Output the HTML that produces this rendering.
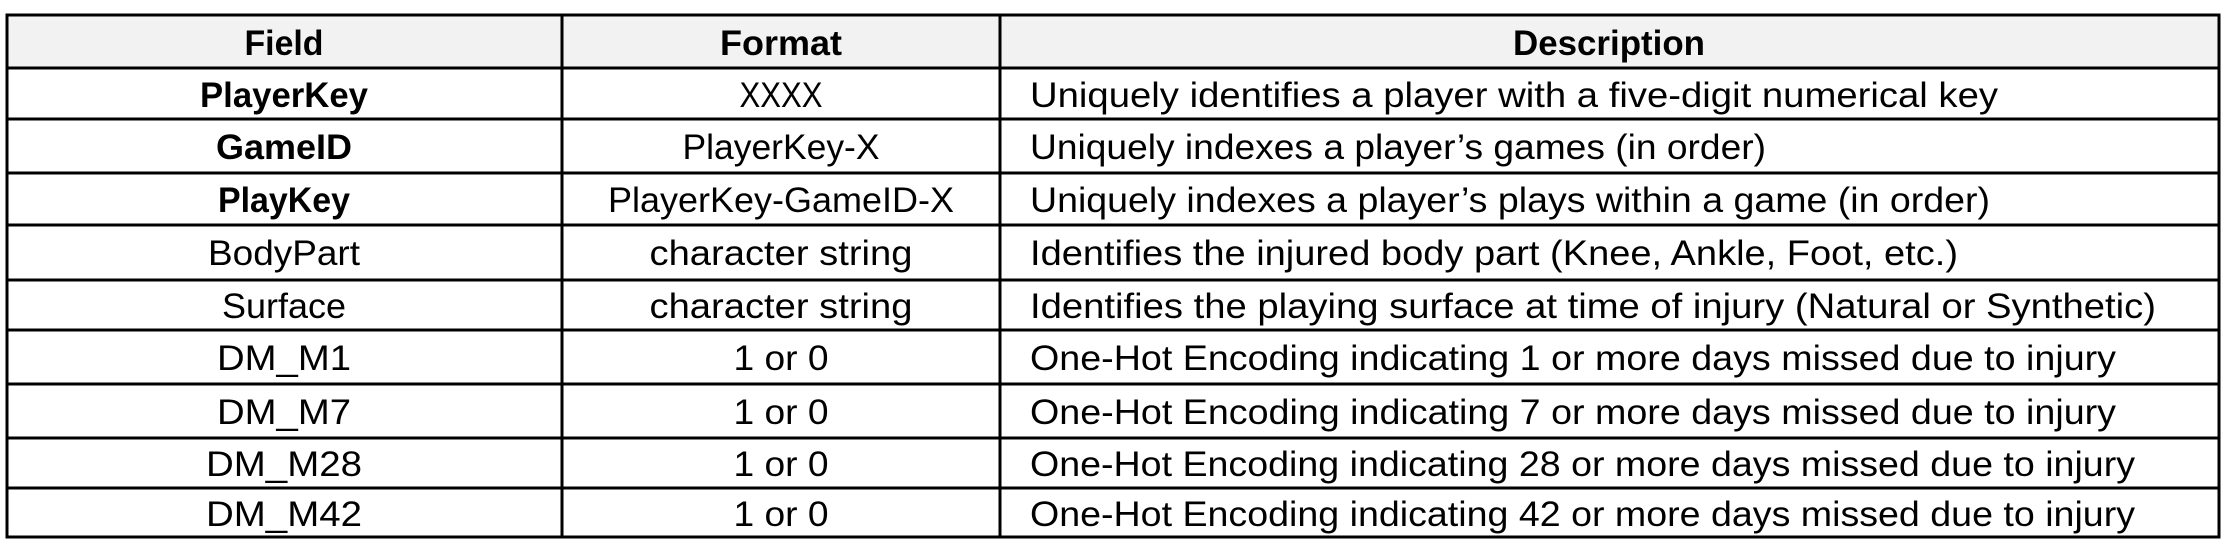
<!DOCTYPE html>
<html><head><meta charset="utf-8"><style>
html,body{margin:0;padding:0;background:#fff;width:2227px;height:550px;overflow:hidden}
svg{display:block}
text{font-family:"Liberation Sans",sans-serif;font-size:35px;fill:#000}
.b{font-weight:bold}
</style></head><body>
<svg width="2227" height="550" viewBox="0 0 2227 550" xmlns="http://www.w3.org/2000/svg">
<rect x="7" y="15" width="2212" height="53" fill="#f2f2f2"/>
<g stroke="#000" stroke-width="3" fill="none">
<rect x="7" y="15" width="2212" height="522"/>
<line x1="7" y1="68" x2="2219" y2="68"/>
<line x1="7" y1="119" x2="2219" y2="119"/>
<line x1="7" y1="173" x2="2219" y2="173"/>
<line x1="7" y1="225" x2="2219" y2="225"/>
<line x1="7" y1="280" x2="2219" y2="280"/>
<line x1="7" y1="330" x2="2219" y2="330"/>
<line x1="7" y1="384" x2="2219" y2="384"/>
<line x1="7" y1="438" x2="2219" y2="438"/>
<line x1="7" y1="488" x2="2219" y2="488"/>
<line x1="562" y1="15" x2="562" y2="537"/>
<line x1="1000" y1="15" x2="1000" y2="537"/>
</g>
<g text-anchor="middle">
<text class="b" x="284" y="55" textLength="79" lengthAdjust="spacingAndGlyphs">Field</text>
<text class="b" x="781" y="55" textLength="122" lengthAdjust="spacingAndGlyphs">Format</text>
<text class="b" x="1609" y="55" textLength="192" lengthAdjust="spacingAndGlyphs">Description</text>

<text class="b" x="284" y="107" textLength="168" lengthAdjust="spacingAndGlyphs">PlayerKey</text>
<text class="b" x="284" y="159" textLength="136" lengthAdjust="spacingAndGlyphs">GameID</text>
<text class="b" x="284" y="212" textLength="132" lengthAdjust="spacingAndGlyphs">PlayKey</text>
<text x="284" y="265" textLength="152" lengthAdjust="spacingAndGlyphs">BodyPart</text>
<text x="284" y="318" textLength="124" lengthAdjust="spacingAndGlyphs">Surface</text>
<text x="284" y="370" textLength="134" lengthAdjust="spacingAndGlyphs">DM_M1</text>
<text x="284" y="424" textLength="134" lengthAdjust="spacingAndGlyphs">DM_M7</text>
<text x="284" y="476" textLength="156" lengthAdjust="spacingAndGlyphs">DM_M28</text>
<text x="284" y="526" textLength="156" lengthAdjust="spacingAndGlyphs">DM_M42</text>

<text x="781" y="107" textLength="83" lengthAdjust="spacingAndGlyphs">XXXX</text>
<text x="781" y="159" textLength="197" lengthAdjust="spacingAndGlyphs">PlayerKey-X</text>
<text x="781" y="212" textLength="346" lengthAdjust="spacingAndGlyphs">PlayerKey-GameID-X</text>
<text x="781" y="265" textLength="263" lengthAdjust="spacingAndGlyphs">character string</text>
<text x="781" y="318" textLength="263" lengthAdjust="spacingAndGlyphs">character string</text>
<text x="781" y="370" textLength="95" lengthAdjust="spacingAndGlyphs">1 or 0</text>
<text x="781" y="424" textLength="95" lengthAdjust="spacingAndGlyphs">1 or 0</text>
<text x="781" y="476" textLength="95" lengthAdjust="spacingAndGlyphs">1 or 0</text>
<text x="781" y="526" textLength="95" lengthAdjust="spacingAndGlyphs">1 or 0</text>
</g>
<g>
<text x="1030" y="107" textLength="968" lengthAdjust="spacingAndGlyphs">Uniquely identifies a player with a five-digit numerical key</text>
<text x="1030" y="159" textLength="736" lengthAdjust="spacingAndGlyphs">Uniquely indexes a player’s games (in order)</text>
<text x="1030" y="212" textLength="960" lengthAdjust="spacingAndGlyphs">Uniquely indexes a player’s plays within a game (in order)</text>
<text x="1030" y="265" textLength="928" lengthAdjust="spacingAndGlyphs">Identifies the injured body part (Knee, Ankle, Foot, etc.)</text>
<text x="1030" y="318" textLength="1126" lengthAdjust="spacingAndGlyphs">Identifies the playing surface at time of injury (Natural or Synthetic)</text>
<text x="1030" y="370" textLength="1086" lengthAdjust="spacingAndGlyphs">One-Hot Encoding indicating 1 or more days missed due to injury</text>
<text x="1030" y="424" textLength="1086" lengthAdjust="spacingAndGlyphs">One-Hot Encoding indicating 7 or more days missed due to injury</text>
<text x="1030" y="476" textLength="1105" lengthAdjust="spacingAndGlyphs">One-Hot Encoding indicating 28 or more days missed due to injury</text>
<text x="1030" y="526" textLength="1105" lengthAdjust="spacingAndGlyphs">One-Hot Encoding indicating 42 or more days missed due to injury</text>
</g>
</svg>
</body></html>
